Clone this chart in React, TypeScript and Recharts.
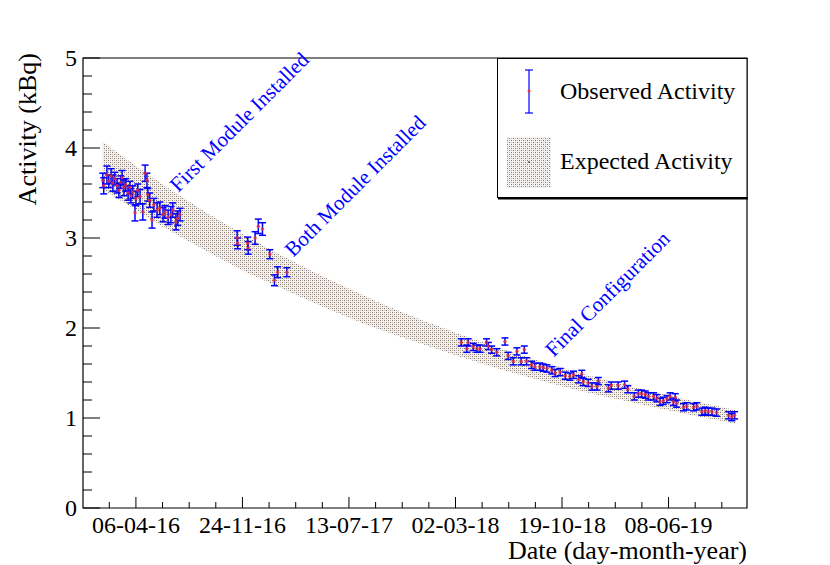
import {
  Area,
  ComposedChart,
  ErrorBar,
  Legend,
  ReferenceArea,
  ReferenceDot,
  Scatter,
  XAxis,
  YAxis,
} from 'recharts';

// x values are days counted from 06-04-2016
const MAJOR_TICKS = [0, 231.5, 463, 694.5, 926, 1157.5];
const TICK_LABELS = ['06-04-16', '24-11-16', '13-07-17', '02-03-18', '19-10-18', '08-06-19'];
const MINOR_STEP = 57.875;
const X_DOMAIN: [number, number] = [-115, 1328];
const Y_DOMAIN: [number, number] = [0, 5];

const bandDays = [-72, 0, 60, 120, 180, 240, 300, 400, 500, 600, 700, 800, 900, 1000, 1100, 1200, 1302];
const bandHigh = [4.07, 3.8, 3.59, 3.39, 3.2, 3.02, 2.85, 2.59, 2.35, 2.13, 1.94, 1.76, 1.6, 1.45, 1.32, 1.2, 1.09];
const bandLow = [3.54, 3.31, 3.12, 2.95, 2.78, 2.62, 2.48, 2.25, 2.04, 1.86, 1.69, 1.53, 1.39, 1.26, 1.15, 1.04, 0.94];

const obsDays = [
  -72, -70, -63, -59, -54, -50, -46, -41, -37, -33, -30, -26, -22, -17, -13, -11, -7, -2, 0, 4, 9, 15, 20, 24, 26,
  30, 35, 39, 46, 52, 59, 63, 70, 76, 80, 87, 91, 96,
  220, 221, 243, 244, 259, 266, 275, 291, 301, 308, 328,
  707, 719, 722, 733, 741, 748, 762, 766, 773, 784, 802, 809, 820, 828, 837, 844, 849, 860, 867, 878, 885, 893,
  904, 911, 922, 933, 943, 951, 962, 969, 972, 983, 991,
  1002, 1005, 1027, 1033, 1048, 1062, 1069, 1083, 1092, 1099, 1107, 1114, 1125, 1132, 1139, 1146, 1154, 1161,
  1168, 1172, 1175, 1190, 1197, 1212, 1219, 1230, 1237, 1244, 1252, 1262, 1288, 1295, 1301,
];
const obsValues = [
  3.64, 3.58, 3.7, 3.63, 3.69, 3.61, 3.66, 3.58, 3.53, 3.62, 3.67, 3.56, 3.59, 3.5, 3.56, 3.47, 3.51, 3.28, 3.44,
  3.53, 3.46, 3.29, 3.72, 3.64, 3.48, 3.42, 3.2, 3.37, 3.31, 3.33, 3.26, 3.29, 3.23, 3.26, 3.31, 3.18, 3.22, 3.26,
  3.0, 2.94, 2.94, 2.89, 3.0, 3.13, 3.1, 2.82, 2.53, 2.62, 2.62,
  1.84, 1.77, 1.84, 1.79, 1.77, 1.77, 1.84, 1.8, 1.76, 1.73, 1.85, 1.69, 1.63, 1.74, 1.63, 1.76, 1.63, 1.59, 1.57,
  1.57, 1.56, 1.55, 1.53, 1.5, 1.51, 1.47, 1.46, 1.48, 1.43, 1.49, 1.4, 1.39, 1.35,
  1.35, 1.41, 1.33, 1.36, 1.36, 1.37, 1.32, 1.24, 1.27, 1.27, 1.26, 1.24, 1.24, 1.22, 1.18, 1.19, 1.21, 1.24,
  1.18, 1.23, 1.16, 1.12, 1.13, 1.12, 1.13, 1.07, 1.08, 1.07, 1.07, 1.06, 1.03, 1.01, 1.03,
];
const obsErrors = [
  0.08, 0.09, 0.1, 0.07, 0.08, 0.09, 0.07, 0.08, 0.08, 0.07, 0.08, 0.09, 0.07, 0.08, 0.07, 0.08, 0.07, 0.09, 0.08,
  0.07, 0.08, 0.09, 0.09, 0.08, 0.07, 0.08, 0.09, 0.07, 0.08, 0.07, 0.08, 0.07, 0.08, 0.09, 0.08, 0.09, 0.08, 0.07,
  0.08, 0.06, 0.07, 0.07, 0.07, 0.08, 0.07, 0.05, 0.06, 0.06, 0.05,
  0.04, 0.04, 0.04, 0.04, 0.04, 0.04, 0.04, 0.04, 0.04, 0.04, 0.04, 0.04, 0.04, 0.04, 0.04, 0.04, 0.04, 0.04, 0.04,
  0.04, 0.04, 0.04, 0.04, 0.04, 0.04, 0.04, 0.04, 0.04, 0.04, 0.04, 0.04, 0.04, 0.04,
  0.04, 0.04, 0.04, 0.04, 0.04, 0.04, 0.04, 0.04, 0.04, 0.04, 0.04, 0.04, 0.04, 0.04, 0.04, 0.04, 0.04, 0.04,
  0.04, 0.04, 0.04, 0.04, 0.04, 0.04, 0.04, 0.04, 0.04, 0.04, 0.04, 0.04, 0.04, 0.04, 0.04,
];

const annotations = [
  { d: 92, v: 3.5, text: 'First Module Installed' },
  { d: 342, v: 2.78, text: 'Both Module Installed' },
  { d: 908, v: 1.67, text: 'Final Configuration' },
];

const FONT = 'Liberation Serif, Times New Roman, serif';

const bandRows = bandDays.map((d, i) => ({ d, band: [bandLow[i], bandHigh[i]] }));
const obsRows = obsDays.map((d, i) => ({ d, v: obsValues[i], e: obsErrors[i] }));

const xTicks: number[] = [];
for (let k = -1; MAJOR_TICKS[0] + k * MINOR_STEP < X_DOMAIN[1]; k++) xTicks.push(MAJOR_TICKS[0] + k * MINOR_STEP);
const yTicks: number[] = [];
for (let k = 0; k <= 25; k++) yTicks.push(k / 5);

function XTick(props: any) {
  const { x, y, payload } = props;
  const idx = MAJOR_TICKS.findIndex((t) => Math.abs(t - payload.value) < 1e-6);
  const major = idx >= 0;
  return (
    <g>
      <line x1={x} x2={x} y1={y} y2={y - (major ? 11 : 6)} stroke="#000" />
      {major && (
        <text x={x} y={y + 25} textAnchor="middle" fontSize={24} fontFamily={FONT} fill="#000">
          {TICK_LABELS[idx]}
        </text>
      )}
    </g>
  );
}

function YTick(props: any) {
  const { x, y, payload } = props;
  const major = Math.abs(payload.value - Math.round(payload.value)) < 1e-6;
  return (
    <g>
      <line x1={x} x2={x + (major ? 17 : 9)} y1={y} y2={y} stroke="#000" />
      {major && (
        <text x={x - 6} y={y + 8} textAnchor="end" fontSize={24} fontFamily={FONT} fill="#000">
          {Math.round(payload.value)}
        </text>
      )}
    </g>
  );
}

function xTitle(props: any) {
  const vb = props.viewBox;
  return (
    <text x={vb.x + vb.width} y={vb.y + 51} textAnchor="end" fontSize={26} fontFamily={FONT} fill="#000">
      Date (day-month-year)
    </text>
  );
}

function yTitle(props: any) {
  const vb = props.viewBox;
  return (
    <text
      x={36}
      y={vb.y - 5}
      transform={`rotate(-90 36 ${vb.y - 5})`}
      textAnchor="end"
      fontSize={26}
      fontFamily={FONT}
      fill="#000"
    >
      Activity (kBq)
    </text>
  );
}

function ObsMarker(props: any) {
  return <circle cx={props.cx} cy={props.cy} r={1.8} fill="#f03030" fillOpacity={0.75} />;
}

function renderLegend() {
  return (
    <svg width={251} height={142} style={{ display: 'block' }}>
      <rect x={0.5} y={0.5} width={249.5} height={139} fill="#fff" stroke="#000" />
      <line x1={1} y1={140.5} x2={251} y2={140.5} stroke="#000" strokeWidth={2} />
      <line x1={32} x2={32} y1={12} y2={55} stroke="#0000ff" strokeWidth={1.2} />
      <line x1={28} x2={36} y1={12} y2={12} stroke="#0000ff" strokeWidth={1.2} />
      <line x1={28} x2={36} y1={55} y2={55} stroke="#0000ff" strokeWidth={1.2} />
      <circle cx={32} cy={33} r={1.5} fill="#f03030" />
      <text x={63} y={41} fontSize={24} fontFamily={FONT} fill="#000">
        Observed Activity
      </text>
      <rect x={10} y={79} width={44} height={51} fill="url(#bandHatch)" />
      <circle cx={32} cy={104} r={0.8} fill="#000" />
      <text x={63} y={111} fontSize={24} fontFamily={FONT} fill="#000">
        Expected Activity
      </text>
    </svg>
  );
}

function annotationShape(text: string) {
  return (p: any) => (
    <text
      x={p.cx}
      y={p.cy}
      transform={`rotate(-45 ${p.cx} ${p.cy})`}
      fontSize={21}
      fontFamily={FONT}
      fill="#0000ff"
    >
      {text}
    </text>
  );
}

export default function App() {
  return (
    <div style={{ position: 'absolute', left: 0, top: 0, width: 830, height: 565, background: '#fff' }}>
      <ComposedChart
        width={830}
        height={565}
        data={bandRows}
        margin={{ top: 58, right: 83, bottom: 0, left: 0 }}
      >
        <defs>
          <pattern id="bandHatch" width={4} height={4} patternUnits="userSpaceOnUse">
            <rect width={4} height={4} fill="#f4f2f0" />
            <rect x={0} y={0} width={1} height={1} fill="#877669" />
            <rect x={2} y={2} width={1} height={1} fill="#877669" />
            <rect x={2} y={0} width={1} height={1} fill="#c4bab2" />
            <rect x={0} y={2} width={1} height={1} fill="#c4bab2" />
          </pattern>
        </defs>
        <XAxis
          dataKey="d"
          type="number"
          domain={X_DOMAIN}
          allowDataOverflow
          ticks={xTicks}
          interval={0}
          tick={<XTick />}
          tickLine={false}
          tickSize={0}
          tickMargin={0}
          axisLine={false}
          height={57}
          label={xTitle}
        />
        <YAxis
          dataKey="v"
          type="number"
          domain={Y_DOMAIN}
          allowDataOverflow
          ticks={yTicks}
          interval={0}
          tick={<YTick />}
          tickLine={false}
          tickSize={0}
          tickMargin={0}
          axisLine={false}
          width={83}
          label={yTitle}
        />
        <Area
          dataKey="band"
          type="monotone"
          stroke="none"
          fill="url(#bandHatch)"
          fillOpacity={1}
          isAnimationActive={false}
        />
        <Scatter data={obsRows} dataKey="v" shape={<ObsMarker />} isAnimationActive={false}>
          <ErrorBar dataKey="e" direction="y" width={3.5} stroke="#0000ff" strokeWidth={1.5} />
        </Scatter>
        {annotations.map((a) => (
          <ReferenceDot key={a.text} x={a.d} y={a.v} r={0} shape={annotationShape(a.text)} />
        ))}
        <ReferenceArea
          x1={X_DOMAIN[0]}
          x2={X_DOMAIN[1]}
          y1={Y_DOMAIN[0]}
          y2={Y_DOMAIN[1]}
          fill="none"
          stroke="#000"
          strokeWidth={1.2}
          ifOverflow="visible"
        />
        <Legend
          content={renderLegend}
          layout="vertical"
          align="center"
          verticalAlign="middle"
          wrapperStyle={{ left: 497, top: 58, width: 251, height: 142 }}
        />
      </ComposedChart>
    </div>
  );
}
